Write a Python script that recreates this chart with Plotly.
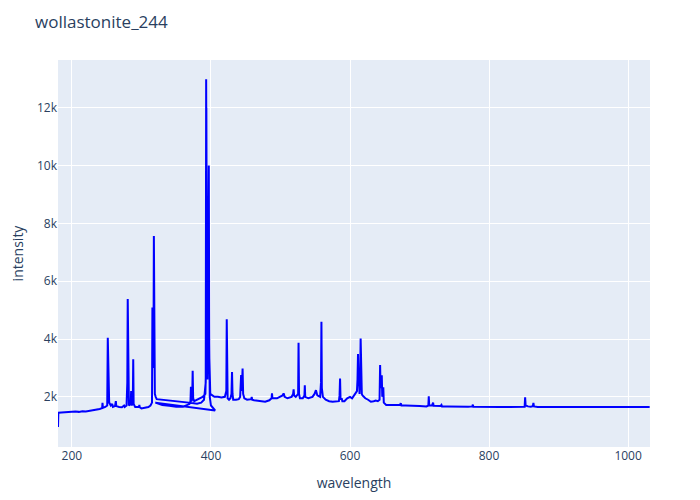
import plotly.graph_objects as go

# Segment A (UV channel, 180-322 nm)
wl_a = [180, 180.5, 185, 190, 195, 200, 205, 210, 215, 220, 225, 230, 235, 240, 243.5, 244, 244.6,
        248, 250.8, 251.6, 252.3, 252.9, 253.6, 256, 258, 259, 262, 263.2, 263.8, 268, 272, 275, 276,
        278.6, 279.7, 280.3, 280.9, 282, 284.6, 285.2, 285.8, 287.6, 288.2, 288.8, 291, 294, 296.5,
        297, 297.5, 300, 305, 310, 313, 315.2, 315.8, 316.4, 317.3, 317.9, 318.5, 319.3, 320.5, 322]
it_a = [960, 1450, 1460, 1470, 1460, 1480, 1490, 1480, 1500, 1490, 1510, 1520, 1540, 1580, 1610, 1790, 1620,
        1650, 1700, 4040, 2400, 2700, 1800, 1700, 1750, 1650, 1680, 1850, 1680, 1650, 1640, 1700, 1650,
        1700, 2500, 5380, 1900, 1700, 1750, 2200, 1700, 1800, 3300, 1750, 1650, 1640, 1650,
        1720, 1640, 1600, 1620, 1650, 1700, 1800, 5090, 3000, 3200, 7560, 2500, 2100, 2000, 1920]

# Segment B (368-406 nm)
wl_b = [368, 374, 380, 386, 390, 392.5, 393.1, 393.8, 394.6, 395.5, 396.3, 396.9, 397.5, 398.3, 400, 403, 406]
it_b = [1800, 1780, 1760, 1800, 1900, 2500, 12980, 6000, 3000, 5000, 8000, 10000, 4000, 2000, 1700, 1600, 1530]

# Segment C (320-1031 nm)
wl_c = [320, 330, 340, 350, 360, 365, 369, 370.5, 371.2, 371.8, 373, 373.7, 374.4, 376, 380, 385, 388,
        390, 392, 392.8, 393.4, 394.2, 395, 396, 396.8, 397.6, 399, 402, 405, 410, 415, 420,
        422.1, 422.7, 423.3, 424, 426, 428, 429.5, 430.3, 431, 432, 436, 440, 442, 443.4, 444.4,
        445.5, 446.3, 448, 452, 455, 458, 458.6, 459.3, 462, 470, 478, 484, 487.2, 487.8, 488.4,
        495, 500, 503, 504.5, 506, 510, 516, 518.2, 518.9, 519.6, 522, 525.4, 526, 526.7, 528,
        532, 534.5, 535, 535.6, 540, 546, 549, 551, 553, 557, 558.3, 558.9, 559.5, 561, 565, 570,
        575, 580, 584, 585, 585.7, 586.4, 588, 589, 592, 596, 600, 603, 606, 608, 610, 610.8,
        611.5, 612.3, 613, 613.7, 614.6, 615.3, 616, 617, 618, 622, 626, 630, 634, 637, 640,
        642.5, 643.3, 644, 645, 645.7, 646.4, 647.3, 647.9, 648.6, 652, 660, 668, 672, 673, 674,
        680, 690, 700, 710, 712.7, 713.3, 713.9, 718, 719.5, 720.3, 725, 730, 731.5, 732.3, 740,
        750, 760, 770, 776, 776.7, 777.4, 790, 800, 815, 830, 845, 851.2, 851.9, 852.6, 856, 860,
        863, 863.8, 864.6, 870, 890, 910, 930, 950, 970, 990, 1010, 1031]
it_c = [1800, 1720, 1690, 1660, 1660, 1700, 1750, 1800, 2350, 1850, 1900, 2900, 1950, 1850, 1900, 1950, 2000,
        2050, 2100, 3000, 12000, 4000, 2600, 5000, 9400, 3500, 2100, 2050, 2000, 2000, 1980, 2000,
        2200, 4680, 2300, 1950, 1900, 1950, 2100, 2860, 2100, 1900, 1900, 1920, 2000, 2750, 2200,
        2980, 2100, 1950, 1900, 1900, 1920, 2000, 1900, 1880, 1850, 1830, 1880, 1950, 2120, 1950,
        1950, 2000, 2050, 2120, 2000, 1950, 2000, 2100, 2260, 2050, 2000, 2100, 3870, 2100, 1950,
        1950, 2050, 2400, 2000, 1950, 2000, 2100, 2230, 2050, 2000, 2500, 4600, 2300, 2000, 1900, 1850,
        1830, 1830, 1850, 2050, 2630, 1900, 1950, 1850, 1850, 1950, 2000, 1950, 2050, 2100, 2200, 2600,
        3480, 2500, 2600, 2100, 2600, 4020, 2400, 2100, 2050, 1950, 1900, 1830, 1850, 1870, 1850,
        1900, 3100, 2300, 2500, 2750, 2000, 2100, 2330, 1800, 1720, 1720, 1700, 1720, 1780, 1700,
        1700, 1680, 1680, 1670, 1700, 2020, 1700, 1700, 1800, 1690, 1680, 1680, 1720, 1670, 1670,
        1660, 1660, 1660, 1670, 1730, 1660, 1650, 1650, 1650, 1650, 1650, 1660, 1980, 1700, 1670, 1660,
        1680, 1790, 1670, 1650, 1650, 1650, 1650, 1650, 1650, 1650, 1650, 1650]

wavelength = wl_a + wl_b + wl_c
intensity = it_a + it_b + it_c

fig = go.Figure(go.Scatter(x=wavelength, y=intensity, mode="lines",
                           line=dict(color="#0000ff", width=2)))
fig.update_layout(
    template="plotly",
    width=692, height=492,
    title=dict(text="wollastonite_244", x=27 / 692, xanchor="left",
               y=1 - 14 / 492, yanchor="middle"),
    margin=dict(l=50, r=50, t=52, b=53),
    xaxis=dict(title="wavelength", range=[180, 1031.5], automargin=False),
    yaxis=dict(title="intensity", range=[265, 13650], automargin=False),
    showlegend=False,
)
fig.write_html("out.html")
